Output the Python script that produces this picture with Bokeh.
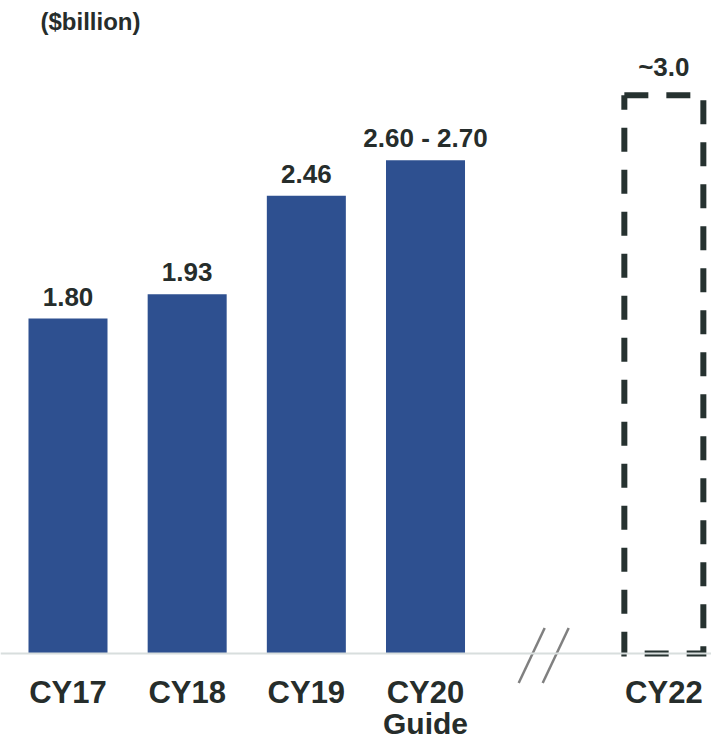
from bokeh.plotting import figure
from bokeh.models import Range1d, Label, Span, ColumnDataSource
from bokeh.core.properties import value
from bokeh.embed import file_html
from bokeh.resources import INLINE

# ---- data ----
categories = ["CY17", "CY18", "CY19", "CY20"]
values = [1.80, 1.93, 2.46, 2.65]          # CY20 guide 2.60-2.70, drawn at midpoint
value_labels = ["1.80", "1.93", "2.46", "2.60 - 2.70"]
target_category = "CY22"
target_value = 3.0
target_label = "~3.0"
sub_label = "Guide"
unit_label = "($billion)"

# ---- layout ----
W, H = 711, 740
px_per_slot = 119.17
px_per_unit = 186.1
x0_px = 67.5      # first slot centre, px from figure left
base_px = 653     # zero line, px from figure top
bar_w = 0.663
TSHIFT = -10      # baseline correction for svg text

FONT_NAME = "Liberation Sans"
FONT = value(FONT_NAME)
TXT = "#262D2B"
BAR = "#2E5090"
BOX = "#263230"
AXIS = "#D8DEDD"

xs = list(range(len(categories)))
break_x = len(categories)
target_x = len(categories) + 1

x_start = -x0_px / px_per_slot
x_end = x_start + W / px_per_slot
y_end = base_px / px_per_unit
y_start = y_end - H / px_per_unit

p = figure(width=W, height=H, output_backend="svg", toolbar_location=None,
           x_range=Range1d(x_start, x_end), y_range=Range1d(y_start, y_end),
           x_axis_type=None, y_axis_type=None, min_border=0)
p.outline_line_color = None
p.grid.visible = False
p.background_fill_color = "white"
p.border_fill_color = "white"

src = ColumnDataSource(dict(x=xs, top=values, lab=value_labels, cat=categories))

p.vbar(x="x", top="top", bottom=0, width=bar_w, source=src,
       fill_color=BAR, line_color=None)

# dashed target box
bl, br = target_x - bar_w / 2, target_x + bar_w / 2
p.line([bl, br, br, bl, bl], [target_value, target_value, 0, 0, target_value],
       line_color=BOX, line_width=6, line_dash="24 18", line_join="miter")

# axis line
p.add_layout(Span(location=0, dimension="width", line_color=AXIS, line_width=2))

# break marks
dx = 13 / px_per_slot
dy = 27.5 / px_per_unit
yc = -2 / px_per_unit
for off in (-13, 11):
    cx = break_x + off / px_per_slot
    p.line([cx - dx, cx + dx], [yc - dy, yc + dy], line_color="#808080", line_width=2.5)

# value labels
p.text(x="x", y="top", text="lab", source=src, text_font=FONT, text_font_style="bold",
       text_font_size="26px", text_color=TXT, text_align="center",
       text_baseline="alphabetic", y_offset=-12 + TSHIFT)
p.text(x=[target_x], y=[target_value], text=[target_label], text_font=FONT,
       text_font_style="bold", text_font_size="26px", text_color=TXT,
       text_align="center", text_baseline="alphabetic", y_offset=-18 + TSHIFT)

# category labels
p.text(x=xs + [target_x], y=[0] * (len(xs) + 1), text=categories + [target_category],
       text_font=FONT, text_font_style="bold", text_font_size="31px", text_color=TXT,
       text_align="center", text_baseline="alphabetic", y_offset=49 + TSHIFT)
p.text(x=[xs[-1]], y=[0], text=[sub_label], text_font=FONT, text_font_style="bold",
       text_font_size="30px", text_color=TXT, text_align="center",
       text_baseline="alphabetic", y_offset=80 + TSHIFT)

p.add_layout(Label(x=40, y=H - 31 - TSHIFT, x_units="screen", y_units="screen", text=unit_label,
                   text_font=FONT_NAME, text_font_style="bold", text_font_size="24px",
                   text_color=TXT, text_baseline="alphabetic"))

open("out.html", "w").write(file_html(p, INLINE))
